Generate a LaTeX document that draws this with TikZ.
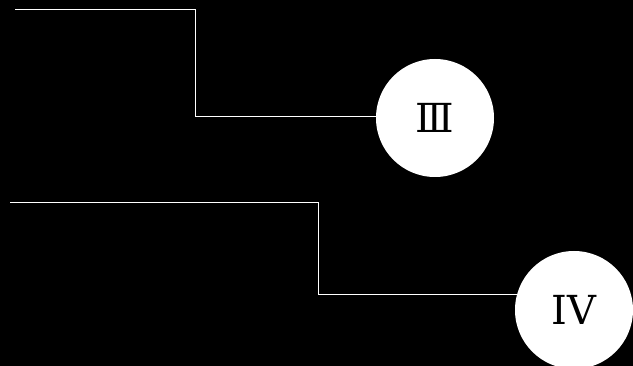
\documentclass[tikz,border=0pt]{standalone}
\usepackage{fontspec}
\setmainfont{DejaVu Serif}
\begin{document}
\begin{tikzpicture}[x=1pt,y=-1pt,
  wire/.style={draw=white,line width=1pt},
  badge/.style={circle,fill=white,minimum size=118pt,inner sep=0pt,
    font=\fontsize{40}{40}\selectfont,text=black}]
\fill[black] (0,0) rectangle (633,366);
\useasboundingbox (0,0) rectangle (633,366);
\node[badge] (c3) at (435,118) {Ⅲ};
\node[badge] (c4) at (574,310) {IV};
\coordinate (s3) at (15,10);
\coordinate (s4) at (10,203);
\draw[wire] (s3) -- (195,10) -- (195,117) -- (c3.west |- 0,117);
\draw[wire] (s4) -- (318,203) -- (318,295) -- (517,295);
\end{tikzpicture}
\end{document}
